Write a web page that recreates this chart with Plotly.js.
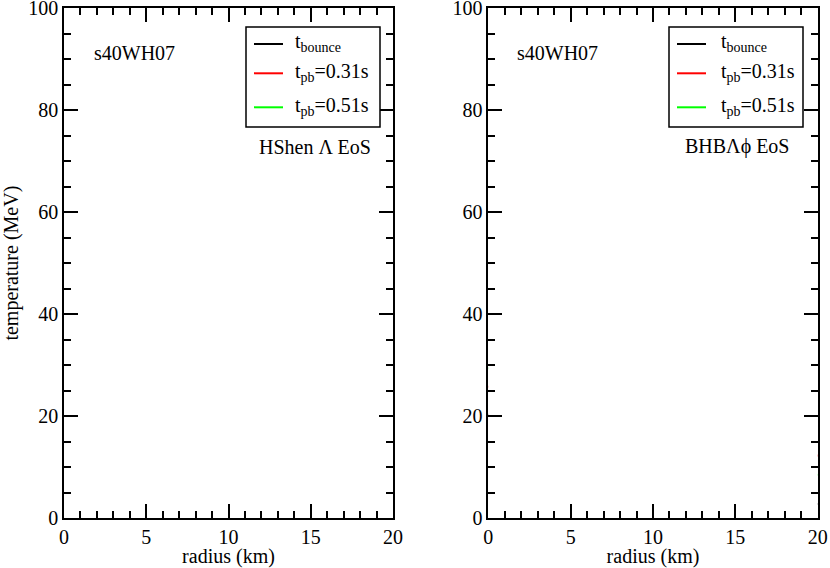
<!DOCTYPE html>
<html>
<head>
<meta charset="utf-8">
<script src="https://cdn.plot.ly/plotly-3.0.1.min.js"></script>
<style>html,body{margin:0;padding:0;background:#fff;}#chart{width:830px;height:568px;}</style>
</head>
<body>
<div id="chart"></div>
<script>
// ---- Data ----
const seriesNames = ["t<sub>bounce</sub>", "t<sub>pb</sub>=0.31s", "t<sub>pb</sub>=0.51s"];
const seriesColors = ["#000000", "#ff0000", "#00ff00"];

// Left panel: HShen Λ EoS
const hshenBounceR = [0, 0.2, 1, 2, 3, 4, 5, 6, 6.95, 7.5, 7.96, 8.5, 9.2, 9.5, 9.9, 10.3, 10.7, 11.1, 11.3, 11.45, 11.62, 11.72, 11.82, 12, 13, 14, 15, 16, 17, 18, 19, 20];
const hshenBounceT = [15.0, 14.6, 14.6, 14.5, 14.3, 14.1, 13.9, 13.8, 13.6, 13.2, 12.9, 12.7, 12.3, 12.7, 13.3, 13.7, 14.3, 15.9, 17.4, 18.0, 16.5, 6.7, 4.2, 4.1, 3.8, 3.5, 3.4, 3.2, 3.1, 3.0, 2.9, 2.8];
const hshen031R = [0, 1, 2, 3, 4, 4.5, 5, 5.5, 6, 6.5, 6.7, 6.95, 7.3, 7.7, 8.06, 8.47, 8.67, 8.8, 8.92, 9.08, 9.38, 9.65, 9.95, 10.08, 10.23, 10.6, 11.1, 11.5, 12.3, 13.1, 13.9, 14.05, 14.75, 15.15, 15.4, 15.75, 16.6, 17.4, 18.4, 19.2, 20];
const hshen031T = [19.3, 19.3, 19.3, 19.2, 19.4, 19.6, 19.9, 20.3, 20.5, 20.7, 20.9, 19.9, 20.8, 22.0, 23.7, 27.0, 30.9, 35.0, 39.4, 46.5, 52.0, 53.3, 57.2, 61.1, 64.2, 63.5, 62.7, 60.6, 56.5, 52.0, 46.6, 45.3, 43.8, 43.0, 41.5, 38.7, 34.2, 28.9, 21.8, 16.5, 12.1];
const hshen051R = [0, 1, 2, 3, 4, 4.5, 5, 5.4, 5.74, 5.9, 6.04, 6.3, 6.65, 7.0, 7.25, 7.39, 7.5, 7.62, 7.75, 7.92, 8.07, 8.27, 8.45, 8.67, 9.0, 9.38, 9.7, 9.99, 10.5, 10.9, 11.31, 11.7, 12.12, 12.52, 13.23, 13.94, 14.55, 15.06, 15.67, 16.1, 16.58, 17.19, 17.6, 17.9, 18.2, 18.6, 19.0, 19.5, 20];
const hshen051T = [21.6, 21.8, 22.0, 22.2, 22.7, 23.4, 24.2, 24.9, 25.4, 24.7, 24.5, 25.7, 28.3, 30.8, 33.2, 36.1, 41.0, 46.1, 56.0, 64.7, 66.0, 70.9, 77.0, 83.8, 83.3, 82.5, 80.0, 77.5, 72.2, 67.0, 61.6, 61.0, 60.3, 54.6, 46.1, 37.4, 27.0, 21.1, 15.9, 13.8, 11.6, 7.4, 6.0, 5.6, 6.7, 9.3, 10.0, 9.9, 9.5];

// Right panel: BHBΛϕ EoS
const bhbBounceR = [0, 0.3, 0.9, 2, 3.04, 4, 4.96, 5.97, 6.98, 8.0, 8.71, 9.21, 9.71, 10.0, 10.32, 10.93, 11.1, 11.34, 11.48, 11.64, 11.94, 12.25, 13, 14, 14.98, 16, 17, 18, 19, 20];
const bhbBounceT = [20.3, 20.4, 21.0, 20.9, 20.6, 20.4, 20.1, 19.8, 19.1, 18.0, 16.2, 15.1, 15.1, 14.7, 14.0, 13.8, 14.2, 15.4, 14.6, 4.8, 4.6, 4.1, 3.9, 3.7, 3.5, 3.3, 3.2, 3.1, 2.95, 2.8];
const bhb031R = [0, 1, 2.03, 3, 4.05, 5.06, 5.87, 6.68, 6.82, 6.98, 7.49, 8.0, 8.3, 8.4, 8.5, 8.8, 9.01, 9.21, 9.31, 9.71, 10.02, 10.42, 10.63, 11.03, 11.54, 12.14, 12.65, 12.96, 13.36, 13.66, 13.97, 14.37, 14.98, 15.59, 16.5, 17.2, 18.0, 18.8, 20];
const bhb031T = [25.8, 25.9, 26.1, 26.3, 26.5, 26.8, 27.5, 27.5, 27.6, 26.7, 27.6, 28.8, 30.9, 34.0, 39.1, 39.7, 40.7, 45.9, 48.0, 50.3, 59.1, 64.9, 64.7, 63.8, 62.7, 59.5, 56.2, 53.6, 51.3, 49.5, 49.1, 46.1, 41.7, 40.8, 34.2, 30.3, 23.7, 17.8, 12.1];
const bhb051R = [0, 1.62, 3.04, 4.35, 5.06, 5.57, 5.87, 6.28, 6.78, 6.98, 7.09, 7.25, 7.59, 8.3, 9.11, 9.62, 9.82, 10.53, 10.93, 11.34, 11.74, 12.14, 12.65, 13.16, 13.76, 14.37, 14.98, 15.59, 15.99, 16.5, 16.7, 17.0, 17.3, 18.2, 20];
const bhb051T = [29.4, 29.6, 30.4, 31.9, 33.2, 34.0, 33.1, 35.2, 40.1, 42.7, 46.1, 55.9, 58.8, 95.4, 93.4, 87.6, 83.0, 74.2, 67.8, 66.5, 61.1, 54.6, 46.1, 36.1, 26.3, 18.5, 14.6, 10.0, 7.4, 5.9, 6.4, 9.7, 10.5, 10.0, 8.5];

// ---- Build ----
const FONT = "Liberation Serif";
const W = 830, H = 568;
const leftSets = [[hshenBounceR, hshenBounceT], [hshen031R, hshen031T], [hshen051R, hshen051T]];
const rightSets = [[bhbBounceR, bhbBounceT], [bhb031R, bhb031T], [bhb051R, bhb051T]];

const traces = [];
leftSets.forEach((s, i) => traces.push({
  x: s[0], y: s[1], type: 'scatter', mode: 'lines', name: seriesNames[i],
  line: {color: seriesColors[i], width: 2}, xaxis: 'x', yaxis: 'y', showlegend: false
}));
rightSets.forEach((s, i) => traces.push({
  x: s[0], y: s[1], type: 'scatter', mode: 'lines', name: seriesNames[i],
  line: {color: seriesColors[i], width: 2}, xaxis: 'x2', yaxis: 'y2', showlegend: false
}));
// empty traces that only establish the tick-only overlay subplots
traces.push({x: [], y: [], type: 'scatter', mode: 'lines', xaxis: 'x3', yaxis: 'y3', showlegend: false, hoverinfo: 'skip'});
traces.push({x: [], y: [], type: 'scatter', mode: 'lines', xaxis: 'x4', yaxis: 'y4', showlegend: false, hoverinfo: 'skip'});

const xRange = [0, 20], yRange = [0, 100];
const xMajor = 5, xMinor = 1, yMajor = 20, yMinor = 5;
const titleFont = {family: FONT, size: 20, color: '#000'};

// label axes (labels + box)
function labelAxis(extra) {
  return Object.assign({
    ticks: '', showline: true, linecolor: '#000', linewidth: 1.5, mirror: true,
    gridcolor: 'rgba(0,0,0,0)', zerolinecolor: '#000',
    ticklabeloverflow: 'allow',
    tickfont: {family: FONT, size: 20, color: '#000'}
  }, extra);
}
// tick-only overlay axes
function tickAxis(extra) {
  return Object.assign({
    ticks: 'inside', ticklen: 14, tickwidth: 1.5, tickcolor: '#000',
    showticklabels: false, showline: true, linecolor: '#000', mirror: 'allticks',
    gridcolor: 'rgba(0,0,0,0)', zeroline: false
  }, extra);
}
const yDom = [1 - 518.3/H, 1 - 8/H];
const xDomL = [64/W, 393/W], xDomR = [488.3/W, 817.7/W];

// Legend boxes drawn as layout decorations (box, sample lines, labels)
const shapes = [];
const annotations = [];
function addLegend(boxLeftPx, lineX0Px, lineX1Px, textXPx) {
  const top = 27, bottom = 127, rowY = [44, 73.3, 107.3];
  shapes.push({type: 'rect', xref: 'paper', yref: 'paper', layer: 'above',
    x0: boxLeftPx / W, x1: (boxLeftPx + 134) / W, y0: 1 - bottom / H, y1: 1 - top / H,
    line: {color: '#000', width: 1.5}, fillcolor: '#fff'});
  seriesNames.forEach((name, i) => {
    shapes.push({type: 'line', xref: 'paper', yref: 'paper', layer: 'above',
      x0: lineX0Px / W, x1: lineX1Px / W, y0: 1 - rowY[i] / H, y1: 1 - rowY[i] / H,
      line: {color: seriesColors[i], width: 2}});
    annotations.push({xref: 'paper', yref: 'paper', x: textXPx / W, y: 1 - (rowY[i] - 1) / H,
      xanchor: 'left', yanchor: 'middle', text: name, showarrow: false, font: titleFont});
  });
}
addLegend(246, 254, 283, 293);
addLegend(669, 677, 706, 719);

annotations.push(
  {xref: 'x', yref: 'y', x: 4.3, y: 91.2, text: 's40WH07', showarrow: false, font: titleFont},
  {xref: 'x', yref: 'y', x: 15.26, y: 72.8, text: 'HShen Λ EoS', showarrow: false, font: titleFont},
  {xref: 'x2', yref: 'y2', x: 4.2, y: 91.2, text: 's40WH07', showarrow: false, font: titleFont},
  {xref: 'x2', yref: 'y2', x: 15.16, y: 72.8, text: 'BHBΛϕ EoS', showarrow: false, font: titleFont}
);

const layout = {
  width: W, height: H,
  margin: {l: 0, r: 0, t: 0, b: 0},
  font: {family: FONT, size: 20, color: '#000'},
  showlegend: false,
  xaxis: labelAxis({domain: xDomL, range: xRange, tick0: 0, dtick: xMajor, anchor: 'y',
    title: {text: 'radius (km)', font: titleFont}}),
  yaxis: labelAxis({domain: yDom, range: yRange, tick0: 0, dtick: yMajor, anchor: 'x',
    title: {text: 'temperature (MeV)', font: titleFont}}),
  xaxis2: labelAxis({domain: xDomR, range: xRange, tick0: 0, dtick: xMajor, anchor: 'y2',
    title: {text: 'radius (km)', font: titleFont}}),
  yaxis2: labelAxis({domain: yDom, range: yRange, tick0: 0, dtick: yMajor, anchor: 'x2'}),
  xaxis3: tickAxis({domain: xDomL, range: xRange, tick0: 0, dtick: xMajor, anchor: 'y3',
    minor: {ticks: 'inside', ticklen: 7, tickwidth: 1.5, tickcolor: '#000', dtick: xMinor}}),
  yaxis3: tickAxis({domain: yDom, range: yRange, tick0: 0, dtick: yMajor, anchor: 'x3',
    minor: {ticks: 'inside', ticklen: 7, tickwidth: 1.5, tickcolor: '#000', dtick: yMinor}}),
  xaxis4: tickAxis({domain: xDomR, range: xRange, tick0: 0, dtick: xMajor, anchor: 'y4',
    minor: {ticks: 'inside', ticklen: 7, tickwidth: 1.5, tickcolor: '#000', dtick: xMinor}}),
  yaxis4: tickAxis({domain: yDom, range: yRange, tick0: 0, dtick: yMajor, anchor: 'x4',
    minor: {ticks: 'inside', ticklen: 7, tickwidth: 1.5, tickcolor: '#000', dtick: yMinor}}),
  shapes: shapes,
  annotations: annotations
};

Plotly.newPlot('chart', traces, layout, {displayModeBar: false});
</script>
</body>
</html>
